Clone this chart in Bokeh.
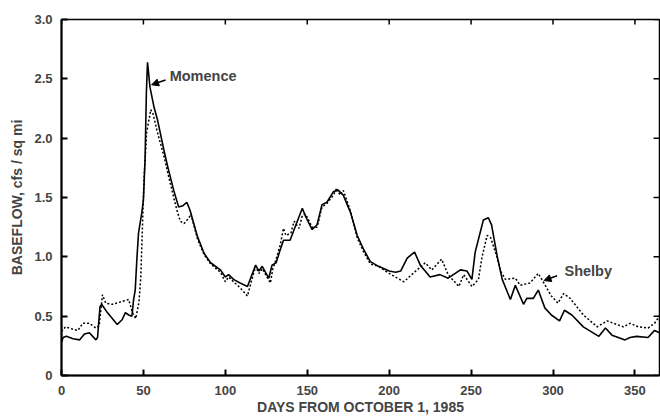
from bokeh.plotting import figure
from bokeh.models import Range1d, FixedTicker, Arrow, NormalHead, Label, PrintfTickFormatter
from bokeh.embed import file_html
from bokeh.resources import INLINE

# ---- data ----
momence_days = [0, 1, 3, 7, 11, 14, 17, 21, 22, 23.5, 24.5, 28, 31, 34, 37, 39, 41, 43, 44, 45, 46, 47, 49,
                50, 51, 51.8, 52.5, 54, 56.5, 58.5, 62.5, 65, 68.5, 71.5, 74, 76.5, 78.5, 83, 87, 91, 97,
                100, 102, 105, 109, 113.5, 118.5, 120.5, 122.5, 126.5, 128.5, 131, 133.5, 135.5, 139.5,
                142, 147, 149, 153, 156, 159, 162, 166, 169, 172, 176.5, 180.5, 184.5, 188.5, 193.5, 200,
                204, 207, 211, 215.5, 219, 225, 231, 236, 243.5, 247.5, 250.5, 252.5, 257.5, 260.5, 262.5,
                266, 269, 274, 277, 282, 284, 288, 291, 295, 299, 304, 307, 311.5, 318.5, 328, 332, 336,
                344, 347, 351, 358, 362, 365]
momence = [0.28, 0.32, 0.33, 0.31, 0.30, 0.35, 0.36, 0.30, 0.32, 0.58, 0.60, 0.53, 0.48, 0.43, 0.47, 0.53,
           0.51, 0.50, 0.64, 0.72, 0.98, 1.20, 1.37, 1.48, 1.82, 2.38, 2.64, 2.43, 2.26, 2.16, 1.90, 1.75,
           1.56, 1.42, 1.43, 1.46, 1.39, 1.17, 1.03, 0.95, 0.89, 0.83, 0.85, 0.81, 0.78, 0.75, 0.93, 0.88,
           0.92, 0.82, 0.93, 0.95, 1.06, 1.14, 1.14, 1.23, 1.41, 1.34, 1.23, 1.27, 1.44, 1.46, 1.55, 1.56,
           1.52, 1.37, 1.18, 1.06, 0.96, 0.92, 0.88, 0.87, 0.88, 0.99, 1.04, 0.93, 0.83, 0.85, 0.82, 0.89,
           0.88, 0.81, 1.04, 1.31, 1.33, 1.27, 1.00, 0.81, 0.64, 0.76, 0.60, 0.65, 0.65, 0.72, 0.57, 0.51,
           0.46, 0.55, 0.51, 0.41, 0.33, 0.40, 0.34, 0.30, 0.32, 0.33, 0.32, 0.38, 0.36]

shelby_days = [0, 2.5, 7, 10, 13, 17, 21, 23, 25, 27, 31, 36, 41, 43.3, 45.3, 47.3, 48.4, 49.4, 50.4, 52,
               54.5, 56, 58.5, 62.5, 65, 68.5, 70.5, 72.5, 74.8, 77.8, 79, 83, 87, 91, 97, 100, 102, 105,
               109, 113.5, 116, 118.5, 120.5, 122.5, 127.5, 129, 131, 133.5, 135.5, 137, 140, 142, 145,
               147, 149, 153, 156, 159, 162, 166, 168, 170, 172, 176.5, 180.5, 184.5, 188.5, 193.5, 200,
               205, 209, 213, 217, 222, 226, 232, 236, 242.5, 245.5, 250.5, 254.5, 256.7, 259.8, 262, 266,
               268, 271, 277, 280, 286, 291, 294, 299, 303, 306.5, 310.5, 318.5, 327, 333, 339, 343, 347,
               352, 358, 362, 365]
shelby = [0.37, 0.41, 0.39, 0.38, 0.44, 0.44, 0.40, 0.42, 0.68, 0.61, 0.60, 0.62, 0.64, 0.53, 0.48, 0.62,
          0.83, 1.25, 1.67, 2.05, 2.24, 2.20, 2.05, 1.85, 1.70, 1.50, 1.39, 1.30, 1.28, 1.33, 1.36, 1.15,
          1.02, 0.94, 0.87, 0.79, 0.83, 0.79, 0.74, 0.67, 0.80, 0.92, 0.86, 0.90, 0.78, 0.90, 0.98, 1.10,
          1.24, 1.18, 1.20, 1.30, 1.24, 1.35, 1.36, 1.25, 1.25, 1.42, 1.45, 1.52, 1.58, 1.52, 1.56, 1.38,
          1.16, 1.04, 0.94, 0.92, 0.86, 0.82, 0.79, 0.84, 0.89, 0.95, 0.89, 0.98, 0.85, 0.75, 0.85, 0.75,
          0.81, 1.00, 1.18, 1.16, 0.99, 0.88, 0.81, 0.82, 0.76, 0.78, 0.86, 0.79, 0.67, 0.61, 0.69, 0.65,
          0.51, 0.41, 0.46, 0.43, 0.41, 0.44, 0.41, 0.40, 0.44, 0.50]

x_ticks = [0, 50, 100, 150, 200, 250, 300, 350]
y_ticks = [0, 0.5, 1.0, 1.5, 2.0, 2.5, 3.0]
x_max = 365
y_max = 3.0

# annotation anchors (data units)
momence_label = ("Momence", 66.0, 2.52)
momence_arrow = (63.5, 2.49, 55.0, 2.45)
shelby_label = ("Shelby", 307.0, 0.88)
shelby_arrow = (302.5, 0.84, 294.5, 0.80)

FONT = "Liberation Sans"

p = figure(width=660, height=417, output_backend="svg", toolbar_location=None,
           x_range=Range1d(0, x_max), y_range=Range1d(0, y_max),
           min_border_left=61, min_border_right=1, min_border_top=19, min_border_bottom=41)
p.grid.visible = False
p.outline_line_color = "black"
p.outline_line_width = 1.5
p.background_fill_color = "white"
p.border_fill_color = "white"

p.line(momence_days, momence, line_color="black", line_width=1.6)
p.line(shelby_days, shelby, line_color="black", line_width=1.5, line_dash="2 2")

# inward ticks on the right and top frame edges
tick_dx = x_max * 0.01
tick_dy = y_max * 0.014
p.segment(x0=[x_max] * len(y_ticks), y0=y_ticks, x1=[x_max - tick_dx] * len(y_ticks), y1=y_ticks,
          line_color="black", line_width=1.5)
p.segment(x0=x_ticks, y0=[y_max] * len(x_ticks), x1=x_ticks, y1=[y_max - tick_dy] * len(x_ticks),
          line_color="black", line_width=1.5)

for ax in (p.xaxis[0], p.yaxis[0]):
    ax.axis_line_width = 2
    ax.major_tick_in = 6
    ax.major_tick_out = 0
    ax.major_tick_line_width = 2
    ax.minor_tick_line_color = None
    ax.major_label_text_font = FONT
    ax.major_label_text_font_style = "bold"
    ax.major_label_text_font_size = "13px"
    ax.axis_label_text_font = FONT
    ax.axis_label_text_font_style = "bold"
    ax.axis_label_text_font_size = "14px"

p.xaxis[0].ticker = FixedTicker(ticks=x_ticks)
p.yaxis[0].ticker = FixedTicker(ticks=y_ticks)
p.yaxis[0].formatter = PrintfTickFormatter(format="%.1f")
p.yaxis[0].major_label_overrides = {0: "0"}
p.xaxis[0].axis_label = "DAYS FROM OCTOBER 1, 1985"
p.yaxis[0].axis_label = "BASEFLOW, cfs / sq mi"
p.xaxis[0].major_label_standoff = 10
p.xaxis[0].axis_label_standoff = 1
p.yaxis[0].major_label_standoff = 9
p.yaxis[0].axis_label_standoff = 6

for (txt, lx, ly), (x0, y0, x1, y1) in ((momence_label, momence_arrow), (shelby_label, shelby_arrow)):
    p.add_layout(Label(x=lx, y=ly, text=txt, text_font=FONT, text_font_style="bold",
                       text_font_size="14.5px", text_baseline="middle", text_align="left"))
    p.add_layout(Arrow(x_start=x0, y_start=y0, x_end=x1, y_end=y1, line_width=1.5,
                       end=NormalHead(size=7, fill_color="black", line_color="black")))

open("out.html", "w").write(file_html(p, INLINE))
